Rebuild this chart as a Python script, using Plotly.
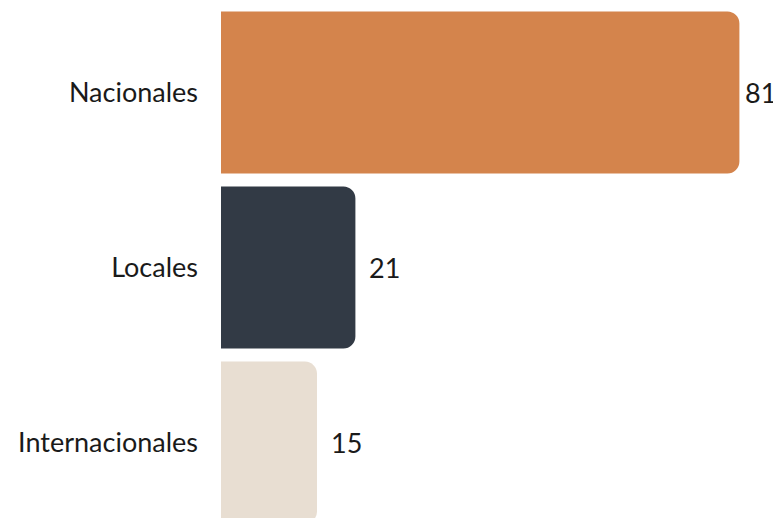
import plotly.graph_objects as go

categories = ["Nacionales", "Locales", "Internacionales"]
values = [81, 21, 15]
colors = ["#D4844C", "#323A45", "#E8DED2"]

FONT = "Lato"
FS = 27
fig = go.Figure()
fig.add_trace(go.Bar(
    y=categories, x=values, orientation="h",
    marker=dict(color=colors, cornerradius=12, line=dict(width=0)),
    width=0.925,
    hoverinfo="skip",
))
for c, v in zip(categories, values):
    fig.add_annotation(x=v, y=c, text=str(v), showarrow=False,
                       xanchor="left", xshift=12 if v < 80 else 4,
                       font=dict(family=FONT, size=FS, color="#1a1a1a"))

fig.update_layout(
    width=773, height=510,
    margin=dict(l=213, r=0, t=0, b=0),
    paper_bgcolor="white", plot_bgcolor="white",
    showlegend=False,
    font=dict(family=FONT, size=FS, color="#1a1a1a"),
    xaxis=dict(range=[0, 87.5], visible=False, fixedrange=True),
    yaxis=dict(range=[2.431, -0.483], showgrid=False, zeroline=False,
               showline=False, ticks="", ticklabelstandoff=22,
               tickfont=dict(family=FONT, size=FS, color="#1a1a1a")),
)
fig.write_html("out.html")
